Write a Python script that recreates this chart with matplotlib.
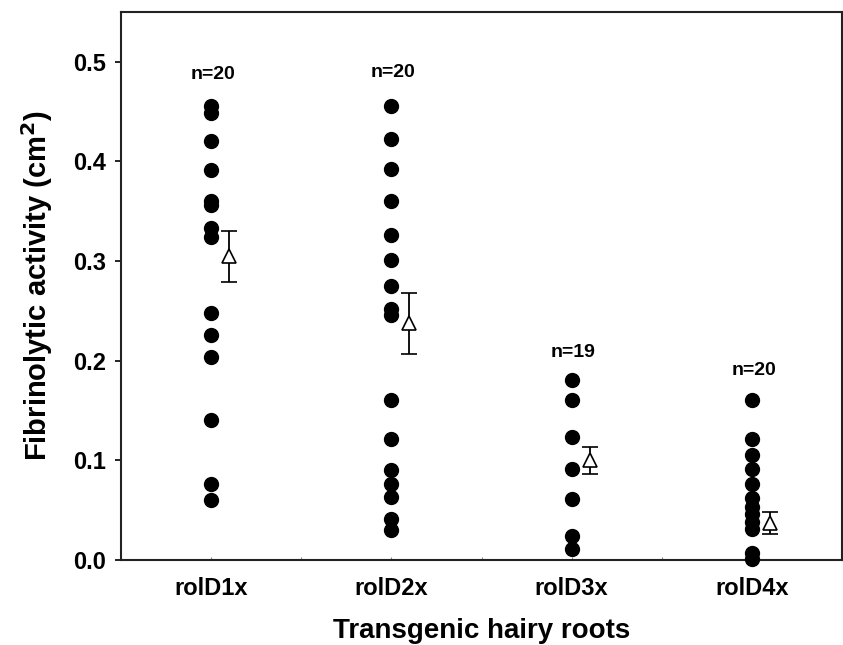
import matplotlib
matplotlib.use("Agg")
import matplotlib.pyplot as plt
import numpy as np

plt.rcParams['font.family'] = ['Liberation Sans', 'DejaVu Sans']

categories = ["rolD1x", "rolD2x", "rolD3x", "rolD4x"]
counts = ["n=20", "n=20", "n=19", "n=20"]
count_y = [0.479, 0.481, 0.200, 0.182]

g1 = [0.456, 0.449, 0.421, 0.391, 0.360, 0.356, 0.333, 0.324, 0.248, 0.226, 0.204, 0.141, 0.076, 0.060]
g2 = [0.456, 0.423, 0.392, 0.360, 0.326, 0.301, 0.275, 0.252, 0.246, 0.161, 0.121, 0.090, 0.076, 0.063, 0.041, 0.030]
g3 = [0.181, 0.161, 0.123, 0.091, 0.061, 0.024, 0.011]
g4 = [0.161, 0.121, 0.105, 0.091, 0.076, 0.062, 0.053, 0.046, 0.038, 0.031, 0.007, 0.001]
groups = [g1, g2, g3, g4]

means = [0.305, 0.238, 0.100, 0.037]
err_low = [0.026, 0.031, 0.014, 0.011]
err_high = [0.025, 0.030, 0.013, 0.011]

fig = plt.figure(figsize=(8.43, 6.45), dpi=100)
ax = fig.add_axes([121/843, 1-560/645, (842-121)/843, (560-12)/645])

pos = np.arange(1, len(categories)+1)
for p, g in zip(pos, groups):
    ax.plot([p]*len(g), g, 'o', color='black', ms=10, clip_on=False, zorder=3)

ax.errorbar(pos + 0.1, means, yerr=[err_low, err_high], fmt='^', mfc='white',
            mec='black', ecolor='black', ms=10, mew=1.2, elinewidth=1.3,
            capsize=5.5, capthick=1.3, zorder=4)

for p, t, y in zip(pos, counts, count_y):
    ax.text(p + 0.01, y, t, ha='center', va='bottom', fontsize=14, fontweight='bold')

ax.set_xlim(0.5, 4.5)
ax.set_ylim(0, 0.55)
ax.set_yticks([0.0, 0.1, 0.2, 0.3, 0.4, 0.5])
ax.set_yticklabels(["0.0", "0.1", "0.2", "0.3", "0.4", "0.5"])
ax.set_xticks(pos)
ax.set_xticklabels(categories)
ax.set_xticks([1.5, 2.5, 3.5], minor=True)
ax.tick_params(axis='x', direction='in', length=2, width=0.8, color='#888888', pad=12, labelsize=17)
ax.tick_params(axis='x', which='minor', direction='in', length=2, width=0.8, color='#888888')
ax.tick_params(axis='y', direction='out', length=4.5, width=1.2, labelsize=17, pad=6)
for lab in ax.get_xticklabels() + ax.get_yticklabels():
    lab.set_fontweight('bold')

for s in ax.spines.values():
    s.set_linewidth(1.5)
    s.set_color('#222222')

ax.set_xlabel("Transgenic hairy roots", fontsize=20, fontweight='bold', labelpad=13)
ax.set_ylabel("Fibrinolytic activity (cm$^\\mathbf{2}$)", fontsize=21, fontweight='bold', labelpad=13)

fig.savefig("out.png", dpi=100)
